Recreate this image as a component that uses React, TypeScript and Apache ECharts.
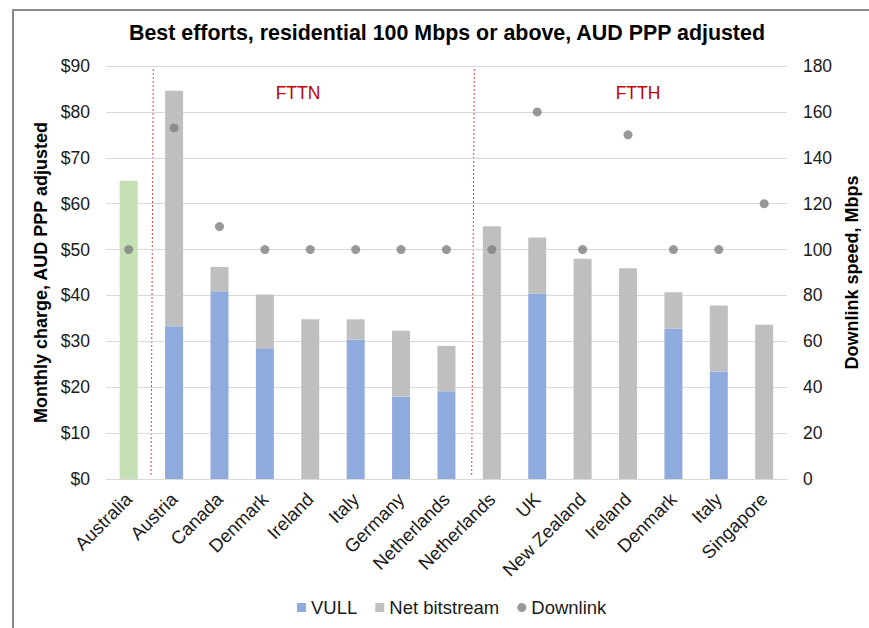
import React, { useEffect, useRef } from "react";
import * as echarts from "echarts";

const categories = [
  "Australia", "Austria", "Canada", "Denmark", "Ireland", "Italy", "Germany", "Netherlands",
  "Netherlands", "UK", "New Zealand", "Ireland", "Denmark", "Italy", "Singapore",
];
const vull: (number | string)[] = ["-", 33.3, 40.9, 28.5, "-", 30.4, 17.9, 19.1, "-", 40.4, "-", "-", 32.8, 23.4, "-"];
const netBitstream = [65.0, 51.3, 5.3, 11.7, 34.8, 4.4, 14.4, 9.9, 55.1, 12.2, 48.0, 45.9, 7.9, 14.4, 33.6];
const downlink = [100, 153, 110, 100, 100, 100, 100, 100, 100, 160, 100, 150, 100, 100, 120];
const leftTicks = { min: 0, max: 90, interval: 10 };
const rightTicks = { min: 0, max: 180, interval: 20 };

const FONT = "'Liberation Sans', Arial, sans-serif";
const TXT = "#1a1a1a";

export default function App() {
  const ref = useRef<HTMLDivElement>(null);
  useEffect(() => {
    if (!ref.current) return;
    const chart = echarts.init(ref.current, null, { renderer: "svg" });
    chart.setOption({
      animation: false,
      backgroundColor: "#ffffff",
      textStyle: { fontFamily: FONT },
      title: {
        text: "Best efforts, residential 100 Mbps or above, AUD PPP adjusted",
        left: 129,
        top: 22,
        padding: 0,
        textStyle: { fontSize: 21.4, fontWeight: "bold", color: "#000", fontFamily: FONT },
      },
      legend: {
        bottom: 11,
        left: 297,
        padding: 0,
        itemGap: 18,
        itemWidth: 9,
        itemHeight: 9,
        textStyle: { fontSize: 18.5, color: TXT, fontFamily: FONT },
        data: [
          { name: "VULL", icon: "rect" },
          { name: "Net bitstream", icon: "rect" },
          { name: "Downlink", icon: "circle" },
        ],
      },
      grid: { left: 106, right: 76, top: 66, bottom: 149 },
      xAxis: {
        type: "category",
        data: categories,
        axisLine: { show: true, lineStyle: { color: "#d9d9d9", width: 1 } },
        axisTick: { show: false },
        axisLabel: {
          interval: 0,
          rotate: 45,
          margin: 17,
          fontSize: 18.5,
          color: TXT,
          fontFamily: FONT,
        },
      },
      yAxis: [
        {
          type: "value",
          ...leftTicks,
          name: "Monthly charge, AUD PPP adjusted",
          nameLocation: "middle",
          nameGap: 52,
          nameTextStyle: { fontSize: 18, fontWeight: "bold", color: "#000", fontFamily: FONT },
          axisLine: { show: false },
          axisTick: { show: false },
          splitLine: { lineStyle: { color: "#d9d9d9", width: 1 } },
          axisLabel: { formatter: "${value}", fontSize: 17.5, color: TXT, margin: 16, fontFamily: FONT },
        },
        {
          type: "value",
          ...rightTicks,
          position: "right",
          name: "Downlink speed, Mbps",
          nameLocation: "middle",
          nameGap: 53,
          nameTextStyle: { fontSize: 18, fontWeight: "bold", color: "#000", fontFamily: FONT },
          axisLine: { show: false },
          axisTick: { show: false },
          splitLine: { show: false },
          axisLabel: { fontSize: 17.5, color: TXT, margin: 16, fontFamily: FONT },
        },
      ],
      series: [
        {
          name: "VULL",
          type: "bar",
          stack: "cost",
          barWidth: 18,
          itemStyle: { color: "#8faadc" },
          data: vull,
        },
        {
          name: "Net bitstream",
          type: "bar",
          stack: "cost",
          barWidth: 18,
          itemStyle: { color: "#bfbfbf" },
          data: netBitstream.map((v, i) =>
            i === 0 ? { value: v, itemStyle: { color: "#c5e0b4" } } : v
          ),
        },
        {
          name: "Downlink",
          type: "scatter",
          yAxisIndex: 1,
          symbol: "circle",
          symbolSize: 9,
          itemStyle: { color: "#808080" },
          data: downlink,
          z: 5,
        },
      ],
      graphic: [
        {
          type: "rect",
          shape: { x: 13, y: 10, width: 900, height: 700 },
          style: { fill: "none", stroke: "#8a8a8a", lineWidth: 2 },
          silent: true,
        },
        {
          type: "line",
          shape: { x1: 153.3, y1: 69, x2: 151, y2: 475 },
          style: { stroke: "#e04040", lineWidth: 1, lineDash: [2, 2] },
          silent: true,
        },
        {
          type: "line",
          shape: { x1: 474.3, y1: 69, x2: 471.7, y2: 475 },
          style: { stroke: "#e04040", lineWidth: 1, lineDash: [2, 2] },
          silent: true,
        },
        {
          type: "text",
          x: 298,
          y: 93,
          style: {
            text: "FTTN",
            fill: "#c00000",
            fontSize: 17.5,
            fontFamily: FONT,
            textAlign: "center",
            textVerticalAlign: "middle",
          },
        },
        {
          type: "text",
          x: 638,
          y: 93,
          style: {
            text: "FTTH",
            fill: "#c00000",
            fontSize: 17.5,
            fontFamily: FONT,
            textAlign: "center",
            textVerticalAlign: "middle",
          },
        },
      ],
    });
    return () => chart.dispose();
  }, []);
  return (
    <div
      ref={ref}
      style={{ position: "fixed", left: 0, top: 0, width: 869, height: 628 }}
    />
  );
}
